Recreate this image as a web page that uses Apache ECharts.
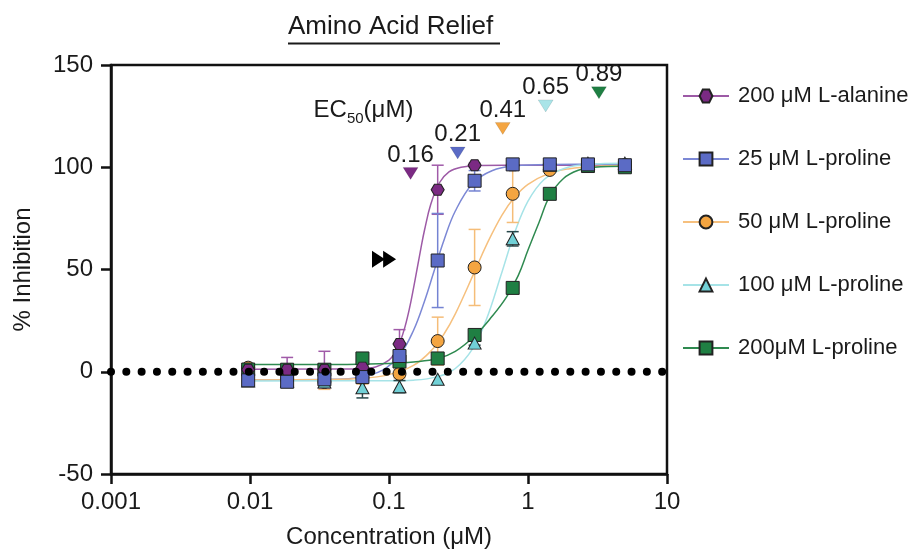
<!DOCTYPE html>
<html>
<head>
<meta charset="utf-8">
<title>Amino Acid Relief</title>
<script src="https://cdn.jsdelivr.net/npm/echarts@6/dist/echarts.min.js"></script>
<style>
  html, body { margin: 0; padding: 0; background: #fff; }
  #chart { width: 915px; height: 554px; }
</style>
</head>
<body>
<div id="chart"></div>
<script>
// concentration series (uM), same for every group
const conc = [0.0097, 0.0185, 0.0343, 0.0644, 0.119, 0.224, 0.413, 0.776, 1.435, 2.70, 4.98]

const names = ['200 μM L-alanine', '25 μM L-proline', '50 μM L-proline', '100 μM L-proline', '200μM L-proline']

// mean % inhibition per concentration
const ala200 = [1, 1, 1, 2, 13.6, 89, 101, 101, 101.5, 101.5, 101]
const pro25 = [-4.2, -4.9, -3.7, -2.6, 7.7, 54.4, 93.4, 101.4, 101.4, 101.4, 101]
const pro50 = [2, -3.5, -5, -3, -1, 15, 51, 87, 98.7, 101, 101]
const pro100 = [-4.5, -4.5, -5, -7.8, -7.3, -3.7, 14, 65, 101, 102, 102]
const pro200 = [1.1, 1, 1, 6.5, 5, 6.5, 18, 41, 87, 100.6, 100]

// error (SD) per concentration
const ala200Err = [0, 6, 9, 2, 7, 12, 1, 0, 0, 0, 0]
const pro25Err = [1, 1, 2, 2, 2, 23, 5, 0, 0, 0, 0]
const pro50Err = [1, 3, 3.6, 3, 2, 11.7, 18.6, 14, 1, 0, 0]
const pro100Err = [0, 0, 0, 5, 3, 0, 1, 3.5, 0, 0, 0]
const pro200Err = [1, 2, 1, 0, 0, 0, 0, 0, 0, 0, 0]

// fitted curves
const ala200FitX = [0.0097, 0.06, 0.08, 0.1, 0.11, 0.12, 0.13, 0.14, 0.15, 0.16, 0.17, 0.18, 0.2, 0.23, 0.27, 0.33, 0.45, 1, 4.98]
const ala200FitY = [1.2, 1.4, 2.3, 5.7, 9.2, 14.5, 21.7, 30.6, 40.8, 51, 60.7, 69.2, 82, 92.3, 97.7, 100, 100.9, 101, 101]
const pro25FitX = [0.0097, 0.04, 0.06, 0.09, 0.12, 0.15, 0.18, 0.21, 0.25, 0.3, 0.4, 0.55, 0.8, 1.5, 4.98]
const pro25FitY = [-4, -3.7, -2.85, 0.8, 8.4, 20.2, 34.5, 48.8, 64.8, 78.6, 92.1, 98.3, 100.7, 101.4, 101.5]
const pro50FitX = [0.0097, 0.03, 0.06, 0.1, 0.15, 0.2, 0.25, 0.3, 0.41, 0.5, 0.65, 0.8, 1.0, 1.4, 2, 3, 4.98]
const pro50FitY = [-4, -3.9, -3.3, -1.4, 3.1, 10.1, 18.7, 28.3, 48.5, 61.7, 76.6, 85.3, 91.6, 96.9, 99.3, 100.4, 100.8]
const pro100FitX = [0.0097, 0.1, 0.15, 0.22, 0.3, 0.4, 0.5, 0.65, 0.8, 1.0, 1.3, 1.8, 2.7, 4.98]
const pro100FitY = [-4.5, -4.4, -4.1, -2.5, 1.6, 11.3, 25.3, 48.8, 67.8, 83.4, 93.9, 99.3, 101.4, 102]
const pro200FitX = [0.0097, 0.05, 0.1, 0.15, 0.224, 0.3, 0.413, 0.55, 0.7, 0.85, 1.0, 1.2, 1.435, 1.8, 2.3, 3, 4.98]
const pro200FitY = [3.5, 3.6, 4.0, 4.8, 6.5, 10, 17.5, 27, 36.5, 47, 59.5, 73, 86, 94.5, 98.5, 100, 100.5]

// EC50 markers
const ec50Text = ['0.16', '0.21', '0.41', '0.65', '0.89']
const ec50X = [0.143, 0.312, 0.658, 1.34, 3.24]
const ec50Y = [97, 107, 119, 130, 136.4]
const ec50HeadX = [0.0655]
const ec50HeadY = [127.7]

// double arrow head
const arrowX = [0.084, 0.101]
const arrowY = [55, 55]

const xTickLabels = ['0.001', '0.01', '0.1', '1', '10']

const font = "'Liberation Sans', Arial, Helvetica, sans-serif"
const ink = '#1a1a1a'
const hexagon = 'path://M-1,0 L-0.5,-0.866 L0.5,-0.866 L1,0 L0.5,0.866 L-0.5,0.866 Z'

const groups = [
  { name: names[0], pts: ala200, err: ala200Err, fx: ala200FitX, fy: ala200FitY, fill: '#7b2a83', line: '#9d5aa6', errColor: '#a05aa8', symbol: hexagon, size: [13, 11] },
  { name: names[1], pts: pro25, err: pro25Err, fx: pro25FitX, fy: pro25FitY, fill: '#5b6bc5', line: '#7c88d5', errColor: '#7483d2', symbol: 'rect', size: 13 },
  { name: names[2], pts: pro50, err: pro50Err, fx: pro50FitX, fy: pro50FitY, fill: '#f4a541', line: '#f6c07e', errColor: '#f5bd78', symbol: 'circle', size: 13 },
  { name: names[3], pts: pro100, err: pro100Err, fx: pro100FitX, fy: pro100FitY, fill: '#71d0d6', line: '#a6e3e7', errColor: '#28484b', symbol: 'triangle', size: [13, 12] },
  { name: names[4], pts: pro200, err: pro200Err, fx: pro200FitX, fy: pro200FitY, fill: '#1f7f43', line: '#2f8a50', errColor: '#2f8a50', symbol: 'rect', size: 13 }
]
const ec50Colors = ['#7b2a83', '#5b6bc5', '#f4a541', '#a9e4e8', '#1f7f43']

function errorBar (params, api) {
  const x = api.value(0)
  const top = api.coord([x, api.value(2)])
  const bot = api.coord([x, api.value(1)])
  const w = 6
  const style = { stroke: api.visual('color'), lineWidth: 1.5 }
  return {
    type: 'group',
    children: [
      { type: 'line', shape: { x1: top[0], y1: top[1], x2: bot[0], y2: bot[1] }, style: style },
      { type: 'line', shape: { x1: top[0] - w, y1: top[1], x2: top[0] + w, y2: top[1] }, style: style },
      { type: 'line', shape: { x1: bot[0] - w, y1: bot[1], x2: bot[0] + w, y2: bot[1] }, style: style }
    ]
  }
}

const series = []

// fitted curves (also give legend icons)
groups.forEach(g => {
  series.push({
    name: g.name,
    type: 'line',
    smooth: 0.4,
    showSymbol: false,
    symbol: g.symbol,
    symbolSize: g.size,
    silent: true,
    z: 2,
    itemStyle: { color: g.fill, borderColor: '#222', borderWidth: 1 },
    lineStyle: { color: g.line, width: 1.5 },
    data: g.fx.map((x, i) => [x, g.fy[i]])
  })
})

// error bars
groups.forEach(g => {
  series.push({
    name: g.name + ' SD',
    type: 'custom',
    renderItem: errorBar,
    silent: true,
    z: 3,
    itemStyle: { color: g.errColor },
    data: conc.map((x, i) => [x, g.pts[i] - g.err[i], g.pts[i] + g.err[i]]).filter((d, i) => g.err[i] > 0)
  })
})

// points, blue last so it sits on top
const drawOrder = [2, 4, 3, 0, 1]
drawOrder.forEach(k => {
  const g = groups[k]
  series.push({
    name: g.name + ' pts',
    type: 'scatter',
    symbol: g.symbol,
    symbolSize: g.size,
    silent: true,
    z: 4,
    itemStyle: { color: g.fill, borderColor: '#222', borderWidth: 1, opacity: 1 },
    data: conc.map((x, i) => [x, g.pts[i]])
  })
})

// dotted zero line
series.push({
  name: 'zero',
  type: 'line',
  symbol: 'none',
  silent: true,
  z: 6,
  lineStyle: { color: '#000', width: 8, type: [0.01, 15.3], cap: 'round' },
  data: [[0.001, 0], [10, 0]]
})

// EC50 triangles with value labels
series.push({
  name: 'EC50',
  type: 'scatter',
  symbol: 'triangle',
  symbolRotate: 180,
  symbolSize: [15, 12],
  silent: true,
  z: 5,
  itemStyle: { color: p => ec50Colors[p.dataIndex], borderColor: 'rgba(0,0,0,0.2)', borderWidth: 0.5, opacity: 1 },
  label: {
    show: true,
    position: 'top',
    distance: 0,
    formatter: p => ec50Text[p.dataIndex],
    fontFamily: font,
    fontSize: 24,
    color: ink
  },
  data: ec50X.map((x, i) => [x, ec50Y[i]])
})

series.push({
  name: 'EC50 head',
  type: 'scatter',
  symbolSize: 0,
  silent: true,
  z: 5,
  itemStyle: { opacity: 1 },
  label: {
    show: true,
    position: 'inside',
    formatter: 'EC{sub|50}(μM)',
    fontFamily: font,
    fontSize: 24,
    color: ink,
    rich: {
      sub: { fontFamily: font, fontSize: 15, color: ink, verticalAlign: 'bottom', padding: [16, 0, 0, 0] }
    }
  },
  data: ec50HeadX.map((x, i) => [x, ec50HeadY[i]])
})

series.push({
  name: 'arrow',
  type: 'scatter',
  symbol: 'triangle',
  symbolRotate: -90,
  symbolSize: [17, 13],
  silent: true,
  z: 5,
  itemStyle: { color: '#000', opacity: 1 },
  data: arrowX.map((x, i) => [x, arrowY[i]])
})

const chart = echarts.init(document.getElementById('chart'), null, { renderer: 'canvas' })
chart.setOption({
  backgroundColor: '#fff',
  animation: false,
  textStyle: { fontFamily: font },
  grid: { left: 111, right: 248, top: 65, bottom: 77, show: true, borderColor: '#111', borderWidth: 2.5 },
  graphic: [
    {
      type: 'text',
      left: 288,
      top: 14,
      style: { text: 'Amino Acid Relief', fontFamily: font, fontSize: 26, fill: ink }
    },
    {
      type: 'line',
      shape: { x1: 288, y1: 43.5, x2: 500, y2: 43.5 },
      style: { stroke: ink, lineWidth: 2 }
    }
  ],
  legend: {
    data: names,
    orient: 'vertical',
    left: 677,
    top: 80,
    itemWidth: 46,
    itemHeight: 16,
    itemGap: 41,
    selectedMode: false,
    textStyle: { fontFamily: font, fontSize: 22, color: ink, padding: [0, 0, 0, 4] }
  },
  xAxis: {
    type: 'log',
    logBase: 10,
    min: 0.001,
    max: 10,
    name: 'Concentration (μM)',
    nameLocation: 'middle',
    nameGap: 51,
    nameTextStyle: { fontFamily: font, fontSize: 24, color: ink },
    axisLine: { onZero: false, lineStyle: { color: '#111', width: 2.5 } },
    axisTick: { length: 10, lineStyle: { color: '#111', width: 2.5 } },
    axisLabel: {
      fontFamily: font, fontSize: 24, color: ink, margin: 16,
      formatter: v => xTickLabels[Math.round(Math.log10(v)) + 3]
    },
    splitLine: { show: false },
    minorTick: { show: false }
  },
  yAxis: {
    type: 'value',
    min: -50,
    max: 150,
    interval: 50,
    name: '% Inhibition',
    nameLocation: 'middle',
    nameGap: 76,
    nameTextStyle: { fontFamily: font, fontSize: 24, color: ink },
    axisLine: { show: true, onZero: false, lineStyle: { color: '#111', width: 2.5 } },
    axisTick: { show: true, length: 10, lineStyle: { color: '#111', width: 2.5 } },
    axisLabel: { fontFamily: font, fontSize: 24, color: ink, margin: 18 },
    splitLine: { show: false }
  },
  series: series
})
</script>
</body>
</html>
